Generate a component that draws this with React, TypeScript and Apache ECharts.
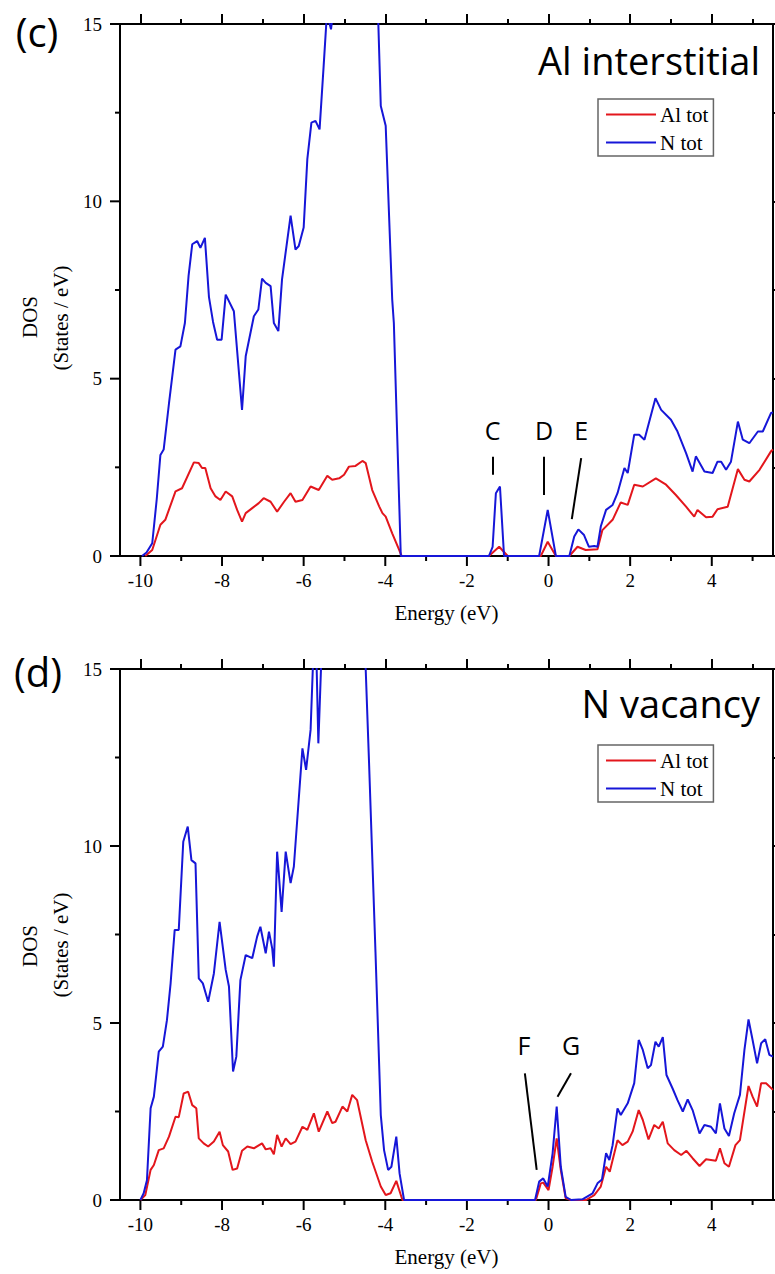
import React, { useEffect, useRef } from "react";
import * as echarts from "echarts";

// Tick values
const majorE = [-10, -8, -6, -4, -2, 0, 2, 4];
const minorE = [-9, -7, -5, -3, -1, 1, 3, 5];
const majorDOS = [0, 5, 10, 15];
const minorDOS = [2.5, 7.5, 12.5];

// Panel (c) Al interstitial — [energy eV, DOS]
const cAlTot: [number, number][] = [
  [-9.88, 0], [-9.71, 0.17], [-9.51, 0.88], [-9.39, 1.02], [-9.14, 1.82], [-8.98, 1.91],
  [-8.69, 2.64], [-8.57, 2.62], [-8.49, 2.48], [-8.41, 2.48], [-8.28, 1.91], [-8.16, 1.68],
  [-8.04, 1.58], [-7.91, 1.82], [-7.75, 1.68], [-7.63, 1.3], [-7.51, 0.97], [-7.42, 1.21],
  [-7.26, 1.35], [-7.1, 1.49], [-6.98, 1.63], [-6.81, 1.53], [-6.65, 1.25], [-6.48, 1.53],
  [-6.32, 1.77], [-6.2, 1.53], [-6.03, 1.58], [-5.83, 1.96], [-5.63, 1.86], [-5.42, 2.26],
  [-5.3, 2.15], [-5.13, 2.19], [-5.01, 2.29], [-4.89, 2.52], [-4.73, 2.54], [-4.56, 2.68],
  [-4.48, 2.62], [-4.32, 1.86], [-4.15, 1.4], [-4.07, 1.21], [-3.99, 1.11], [-3.83, 0.64],
  [-3.66, 0.17], [-3.6, 0], [-1.46, 0], [-1.21, 0.26], [-1.0, 0], [-0.19, 0], [-0.02, 0.4],
  [0.18, 0], [0.51, 0], [0.71, 0.26], [0.91, 0.17], [1.2, 0.19], [1.32, 0.73], [1.57, 1.02],
  [1.77, 1.51], [1.94, 1.44], [2.1, 2.01], [2.31, 1.96], [2.63, 2.19], [2.88, 2.01],
  [3.12, 1.72], [3.37, 1.39], [3.57, 1.11], [3.65, 1.3], [3.86, 1.09], [4.02, 1.11],
  [4.14, 1.32], [4.39, 1.39], [4.64, 2.45], [4.8, 2.15], [4.92, 2.1], [5.17, 2.43],
  [5.45, 2.95], [5.5, 3.0],
];
const cNTot: [number, number][] = [
  [-9.96, 0], [-9.85, 0.1], [-9.71, 0.36], [-9.6, 1.6], [-9.51, 2.85], [-9.43, 3.0],
  [-9.3, 4.3], [-9.14, 5.82], [-9.02, 5.91], [-8.91, 6.57], [-8.82, 7.9], [-8.73, 8.79],
  [-8.61, 8.88], [-8.53, 8.69], [-8.42, 8.97], [-8.32, 7.3], [-8.22, 6.6], [-8.12, 6.1],
  [-8.01, 6.1], [-7.91, 7.37], [-7.71, 6.9], [-7.51, 4.12], [-7.42, 5.63], [-7.22, 6.76],
  [-7.11, 6.95], [-7.02, 7.82], [-6.93, 7.7], [-6.81, 7.61], [-6.73, 6.57], [-6.62, 6.34],
  [-6.53, 7.8], [-6.32, 9.6], [-6.2, 8.64], [-6.12, 8.74], [-6.0, 9.26], [-5.91, 11.19],
  [-5.81, 12.22], [-5.71, 12.27], [-5.61, 12.03], [-5.51, 13.82], [-5.43, 15.3],
  [-5.33, 14.85], [-5.25, 15.6], [-5.0, 18.5], [-4.8, 19.5], [-4.6, 20], [-4.4, 19],
  [-4.25, 16.5], [-4.17, 15.0], [-4.11, 12.69], [-3.99, 12.13], [-3.83, 7.23], [-3.79, 6.57],
  [-3.62, 0], [-1.46, 0], [-1.37, 0.26], [-1.29, 1.77], [-1.19, 1.96], [-1.09, 0],
  [-0.23, 0], [-0.02, 1.3], [0.18, 0], [0.51, 0], [0.63, 0.55], [0.73, 0.75], [0.87, 0.59],
  [0.99, 0.26], [1.12, 0.28], [1.2, 0.26], [1.28, 0.83], [1.41, 1.3], [1.57, 1.44],
  [1.69, 1.77], [1.86, 2.48], [1.94, 2.34], [2.1, 3.42], [2.22, 3.42], [2.35, 3.28],
  [2.62, 4.45], [2.76, 4.12], [3.0, 3.84], [3.16, 3.51], [3.37, 2.9], [3.53, 2.38],
  [3.61, 2.81], [3.82, 2.38], [4.02, 2.34], [4.14, 2.66], [4.23, 2.66], [4.35, 2.43],
  [4.47, 2.66], [4.64, 3.79], [4.76, 3.28], [4.92, 3.18], [5.13, 3.51], [5.25, 3.51],
  [5.45, 4.03], [5.5, 4.05],
];

// Panel (d) N vacancy — [energy eV, DOS]
const dAlTot: [number, number][] = [
  [-10.0, 0], [-9.88, 0.14], [-9.75, 0.85], [-9.67, 0.99], [-9.55, 1.41], [-9.43, 1.46],
  [-9.3, 1.79], [-9.14, 2.35], [-9.06, 2.34], [-8.94, 3.01], [-8.83, 3.06], [-8.73, 2.68],
  [-8.63, 2.59], [-8.57, 1.74], [-8.45, 1.6], [-8.34, 1.51], [-8.2, 1.65], [-8.06, 1.93],
  [-7.98, 1.55], [-7.85, 1.37], [-7.74, 0.85], [-7.63, 0.89], [-7.51, 1.39], [-7.38, 1.51],
  [-7.22, 1.46], [-7.02, 1.6], [-6.93, 1.43], [-6.81, 1.46], [-6.73, 1.29], [-6.65, 1.84],
  [-6.54, 1.51], [-6.44, 1.74], [-6.32, 1.58], [-6.2, 1.65], [-6.03, 2.07], [-5.91, 1.98],
  [-5.75, 2.45], [-5.63, 1.93], [-5.42, 2.5], [-5.3, 2.17], [-5.22, 2.21], [-5.05, 2.64],
  [-4.93, 2.5], [-4.81, 2.97], [-4.69, 2.82], [-4.48, 1.69], [-4.32, 1.08], [-4.11, 0.38],
  [-3.99, 0.14], [-3.87, 0.19], [-3.73, 0.54], [-3.58, 0], [-0.31, 0], [-0.19, 0.47],
  [-0.13, 0.49], [0.0, 0.28], [0.1, 0.94], [0.2, 1.74], [0.3, 0.85], [0.42, 0.05], [0.55, 0],
  [0.92, 0], [1.12, 0.14], [1.28, 0.38], [1.41, 0.94], [1.5, 0.8], [1.69, 1.69], [1.81, 1.55],
  [1.94, 1.65], [2.06, 1.93], [2.21, 2.54], [2.31, 2.26], [2.45, 1.71], [2.59, 2.12],
  [2.7, 2.02], [2.8, 2.21], [2.92, 1.6], [3.08, 1.41], [3.25, 1.27], [3.38, 1.39],
  [3.53, 1.18], [3.7, 0.96], [3.86, 1.15], [4.1, 1.11], [4.2, 1.46], [4.31, 1.04],
  [4.42, 0.94], [4.58, 1.55], [4.69, 1.69], [4.9, 3.22], [5.0, 2.92], [5.11, 2.64],
  [5.21, 3.3], [5.33, 3.3], [5.5, 3.11],
];
const dNTot: [number, number][] = [
  [-10.0, 0], [-9.92, 0.19], [-9.84, 0.56], [-9.75, 2.59], [-9.67, 2.92], [-9.55, 4.19],
  [-9.45, 4.33], [-9.35, 5.08], [-9.26, 6.12], [-9.16, 7.63], [-9.06, 7.63], [-8.95, 10.12],
  [-8.84, 10.55], [-8.75, 9.6], [-8.65, 9.51], [-8.57, 6.26], [-8.47, 6.12], [-8.34, 5.6],
  [-8.2, 6.4], [-8.06, 7.86], [-7.91, 6.5], [-7.83, 6.03], [-7.73, 3.63], [-7.65, 4.05],
  [-7.55, 6.21], [-7.42, 6.92], [-7.26, 6.83], [-7.14, 7.44], [-7.06, 7.72], [-6.93, 6.97],
  [-6.85, 7.58], [-6.77, 7.1], [-6.73, 6.59], [-6.65, 9.84], [-6.54, 8.14], [-6.44, 9.84],
  [-6.32, 8.95], [-6.24, 9.42], [-6.03, 12.76], [-5.94, 12.15], [-5.83, 13.28],
  [-5.76, 15.5], [-5.7, 16], [-5.64, 12.9], [-5.56, 15.5], [-5.4, 18], [-5.0, 19.5],
  [-4.7, 19], [-4.48, 15], [-4.4, 12.43], [-4.24, 7.0], [-4.11, 2.4], [-4.03, 1.41],
  [-3.93, 0.85], [-3.85, 0.94], [-3.73, 1.79], [-3.65, 0.75], [-3.54, 0], [-0.33, 0],
  [-0.23, 0.52], [-0.13, 0.61], [-0.02, 0.38], [0.1, 1.32], [0.2, 2.64], [0.3, 0.94],
  [0.42, 0.09], [0.55, 0], [0.83, 0.02], [1.08, 0.19], [1.2, 0.47], [1.31, 0.58],
  [1.41, 1.32], [1.49, 1.13], [1.57, 1.55], [1.69, 2.59], [1.77, 2.4], [1.94, 2.73],
  [2.1, 3.3], [2.21, 4.52], [2.31, 4.24], [2.43, 3.72], [2.51, 3.81], [2.62, 4.47],
  [2.7, 4.33], [2.8, 4.6], [2.89, 3.53], [3.04, 3.15], [3.16, 2.82], [3.29, 2.5],
  [3.41, 2.84], [3.53, 2.54], [3.7, 1.88], [3.82, 2.12], [3.98, 2.07], [4.1, 1.88],
  [4.2, 2.73], [4.31, 2.02], [4.42, 1.81], [4.55, 2.45], [4.69, 2.97], [4.8, 4.24],
  [4.9, 5.1], [5.0, 4.52], [5.11, 3.86], [5.21, 4.43], [5.31, 4.54], [5.41, 4.1], [5.5, 4.05],
];

// Peak annotations: letter, letter position [E, DOS], leader line [E1, DOS1, E2, DOS2]
const cLetters = ["C", "D", "E"];
const cLetterPos: [number, number][] = [[-1.37, 3.56], [-0.11, 3.56], [0.8, 3.56]];
const cLeaders: [number, number, number, number][] = [
  [-1.37, 2.8, -1.37, 2.29], [-0.12, 2.8, -0.12, 1.72], [0.8, 2.76, 0.57, 1.04],
];
const dLetters = ["F", "G"];
const dLetterPos: [number, number][] = [[-0.6, 4.38], [0.55, 4.38]];
const dLeaders: [number, number, number, number][] = [
  [-0.58, 3.58, -0.29, 0.85], [0.55, 3.58, 0.22, 2.92],
];

const serif = "Liberation Serif";
const sans = "Open Sans";
const RED = "#e3161c";
const BLUE = "#1616d8";
const E_MIN = -10.5;
const E_MAX = 5.5;
const TICK = { color: "#000", width: 2 };
const AXLINE = { show: true, onZero: false, lineStyle: { color: "#000", width: 2 } };
const NX = 3; // x axes per grid
const NY = 2; // y axes per grid

// Per grid: 0 = labelled bottom axis, 1 = top axis (major ticks), 2 = top minor ticks
function xAxesFor(g: number) {
  const base = { gridIndex: g, type: "value" as const, min: E_MIN, max: E_MAX, splitLine: { show: false } };
  return [
    {
      ...base, position: "bottom", axisLine: AXLINE, axisTick: { show: false },
      axisLabel: { show: true, customValues: majorE, margin: 15, fontFamily: serif, fontSize: 19, color: "#000" },
      name: "Energy (eV)", nameLocation: "middle", nameGap: 46,
      nameTextStyle: { fontFamily: serif, fontSize: 21, color: "#000" },
    },
    {
      ...base, position: "top", axisLine: AXLINE,
      axisTick: { show: true, length: 10, customValues: majorE, lineStyle: TICK },
      axisLabel: { show: false },
    },
    {
      ...base, position: "top", axisLine: { show: false, onZero: false },
      axisTick: { show: true, length: 5, customValues: minorE, lineStyle: TICK },
      axisLabel: { show: false },
    },
  ];
}

// Per grid: 0 = labelled left axis, 1 = right axis with ticks
function yAxesFor(g: number) {
  const base = {
    gridIndex: g, type: "value" as const, min: 0, max: 15, interval: 5,
    splitLine: { show: false }, minorSplitLine: { show: false },
  };
  return [
    { ...base, position: "left", axisLine: AXLINE, axisTick: { show: false },
      axisLabel: { show: true, margin: 18, fontFamily: serif, fontSize: 19, color: "#000" } },
    { ...base, position: "right", axisLine: AXLINE,
      axisTick: { show: true, length: 10, lineStyle: TICK },
      minorTick: { show: true, splitNumber: 2, length: 5, lineStyle: TICK },
      axisLabel: { show: false } },
  ];
}

// Outward ticks for the bottom (x) and left (y) axes, placed through the axes' scales
function tickSeries(g: number, kind: "x" | "y", values: number[], len: number) {
  return {
    type: "custom", name: "ticks", silent: true, clip: false, z: 3,
    xAxisIndex: g * NX, yAxisIndex: g * NY,
    data: values.map((v) => (kind === "x" ? [v, 0] : [E_MIN, v])),
    renderItem: (_p: any, api: any) => {
      const p = api.coord([api.value(0), api.value(1)]);
      const shape = kind === "x"
        ? { x1: p[0], y1: p[1], x2: p[0], y2: p[1] + len }
        : { x1: p[0] - len, y1: p[1], x2: p[0], y2: p[1] };
      return { type: "line", shape, style: { stroke: "#000", lineWidth: 2 } };
    },
  };
}

function lineSeries(name: string, color: string, data: [number, number][], g: number, extra: any = {}) {
  return {
    type: "line", name, data, xAxisIndex: g * NX, yAxisIndex: g * NY,
    showSymbol: false, symbol: "none", color, clip: true,
    lineStyle: { color, width: 2 }, itemStyle: { color },
    ...extra,
  };
}

function annotations(letters: string[], pos: [number, number][], leaders: [number, number, number, number][]) {
  return {
    markLine: {
      silent: true, symbol: ["none", "none"], animation: false,
      label: { show: false },
      lineStyle: { color: "#000", width: 2, type: "solid" },
      data: leaders.map((l) => [{ coord: [l[0], l[1]] }, { coord: [l[2], l[3]] }]),
    },
    markPoint: {
      silent: true, symbol: "rect", symbolSize: 1, animation: false,
      itemStyle: { color: "rgba(0,0,0,0)" },
      label: { show: true, position: "inside", formatter: "{b}", fontFamily: sans, fontSize: 25, color: "#000" },
      data: letters.map((t, i) => ({ name: t, coord: pos[i], value: 0 })),
    },
  };
}

function legendFor(top: number) {
  return {
    orient: "vertical", left: 598, top, data: ["Al tot", "N tot"],
    icon: "rect", itemWidth: 50, itemHeight: 2, itemGap: 7,
    padding: [5, 5, 3, 8], borderColor: "#666", borderWidth: 1.5, backgroundColor: "#fff",
    selectedMode: false,
    textStyle: { fontFamily: serif, fontSize: 21, color: "#000", padding: [0, 0, 0, -1] },
  };
}

export default function App() {
  const ref = useRef<HTMLDivElement>(null);
  useEffect(() => {
    if (!ref.current) return;
    const chart = echarts.init(ref.current, null, { renderer: "svg" });
    const yl = (text: string, x: number, y: number) => ({
      type: "text", x, y, rotation: Math.PI / 2,
      style: { text, fontFamily: serif, fontSize: 21, fill: "#000", align: "center", verticalAlign: "middle" },
    });
    const big = (text: string, x: number, y: number, align: string, size: number) => ({
      type: "text", x, y,
      style: { text, fontFamily: sans, fontSize: size, fill: "#000", align, verticalAlign: "middle" },
    });
    const ticks = [0, 1].flatMap((g) => [
      tickSeries(g, "x", majorE, 10),
      tickSeries(g, "x", minorE, 5),
      tickSeries(g, "y", majorDOS, 10),
      tickSeries(g, "y", minorDOS, 5),
    ]);
    chart.setOption({
      animation: false,
      backgroundColor: "#fff",
      grid: [
        { left: 120, top: 24, width: 653, height: 532 },
        { left: 120, top: 669, width: 653, height: 531 },
      ],
      xAxis: [...xAxesFor(0), ...xAxesFor(1)],
      yAxis: [...yAxesFor(0), ...yAxesFor(1)],
      legend: [legendFor(99), legendFor(745)],
      series: [
        lineSeries("Al tot", RED, cAlTot, 0),
        lineSeries("N tot", BLUE, cNTot, 0, annotations(cLetters, cLetterPos, cLeaders)),
        lineSeries("Al tot", RED, dAlTot, 1),
        lineSeries("N tot", BLUE, dNTot, 1, annotations(dLetters, dLetterPos, dLeaders)),
        ...ticks,
      ],
      graphic: [
        big("(c)", 37, 31, "center", 40),
        big("Al interstitial", 760, 60, "right", 38),
        big("(d)", 38, 671, "center", 40),
        big("N vacancy", 760, 703, "right", 38),
        yl("DOS", 30, 317),
        yl("(States / eV)", 61, 318),
        yl("DOS", 30, 946),
        yl("(States / eV)", 61, 945),
      ],
    });
    return () => chart.dispose();
  }, []);
  return (
    <div
      ref={ref}
      style={{ position: "absolute", left: 0, top: 0, width: 775, height: 1274, background: "#fff" }}
    />
  );
}
